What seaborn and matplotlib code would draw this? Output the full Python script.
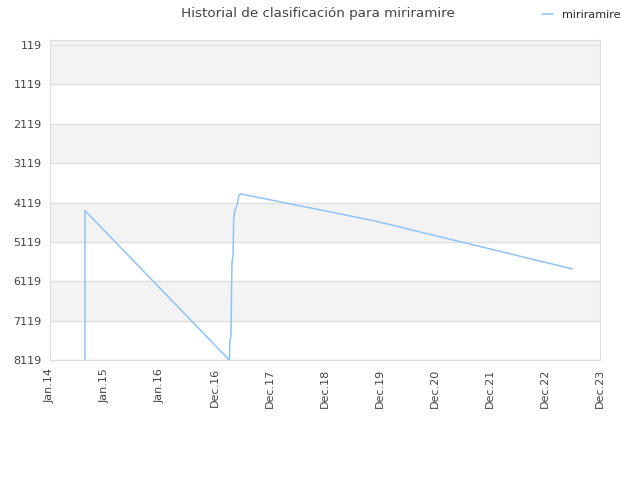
import matplotlib
matplotlib.use('Agg')
import matplotlib.pyplot as plt
import matplotlib.dates as mdates
import seaborn as sns
import pandas as pd
import numpy as np

# ranking history
dates = ['2014-08-21', '2014-08-21', '2017-04-05', '2017-04-09', '2017-04-16',
         '2017-04-21', '2017-04-23', '2017-04-30', '2017-05-04', '2017-05-13',
         '2017-05-26', '2017-06-04', '2017-06-15', '2017-06-26', '2019-11-17',
         '2023-06-29']
ranks = [8119, 4323, 8119, 7653, 7483, 6034, 5620, 5449, 4509, 4306,
         4196, 4001, 3899, 3905, 4578, 5805]
player = 'miriramire'

y_ticks = [119, 1119, 2119, 3119, 4119, 5119, 6119, 7119, 8119]
tick_start = '2014-01-01'
n_ticks = 11
tick_step_days = 365

df = pd.DataFrame({'date': pd.to_datetime(dates), 'rank': ranks})

sns.set_style('white')
plt.rcParams['font.family'] = ['DejaVu Sans']

fig = plt.figure(figsize=(6.4, 4.8), dpi=100)
ax = fig.add_axes([50 / 640, 1 - 360 / 480, 550 / 640, 320 / 480])

x_ticks = pd.date_range(tick_start, periods=n_ticks,
                        freq=pd.Timedelta(days=tick_step_days))

# alternating bands
ax.axhspan(-10, y_ticks[1], color='#f3f3f3', zorder=0)
for i in range(2, len(y_ticks) - 1, 2):
    ax.axhspan(y_ticks[i], y_ticks[i + 1], color='#f3f3f3', zorder=0)

sns.lineplot(data=df, x='date', y='rank', ax=ax, color='#90c3f4',
             linewidth=1.1, sort=False, estimator=None, label=player,
             zorder=3)

ax.set_ylim(8119, -10)
ax.set_xlim(x_ticks[0], x_ticks[-1])
ax.set_yticks(y_ticks)
ax.set_yticklabels([str(v) for v in y_ticks])
ax.set_xticks(x_ticks)
ax.xaxis.set_major_formatter(mdates.DateFormatter('%b.%y'))
ax.grid(axis='y', color='#e0e0e0', linewidth=1, zorder=1)
ax.set_axisbelow(True)
ax.tick_params(axis='x', rotation=90, labelsize=8, colors='#444444',
               length=0, pad=6)
ax.tick_params(axis='y', labelsize=8, colors='#444444', length=0, pad=6)
for s in ax.spines.values():
    s.set_color('#dddddd')
ax.set_xlabel('')
ax.set_ylabel('')

ax.get_legend().remove()
handles, labels = ax.get_legend_handles_labels()
fig.legend(handles, labels, loc='upper right', bbox_to_anchor=(0.985, 1.0),
           frameon=False, fontsize=8, handlelength=1.0)

fig.suptitle('Historial de clasificación para miriramire', x=0.497, y=0.985,
             fontsize=9.7, color='#444444')

fig.savefig('out.png', dpi=100)
